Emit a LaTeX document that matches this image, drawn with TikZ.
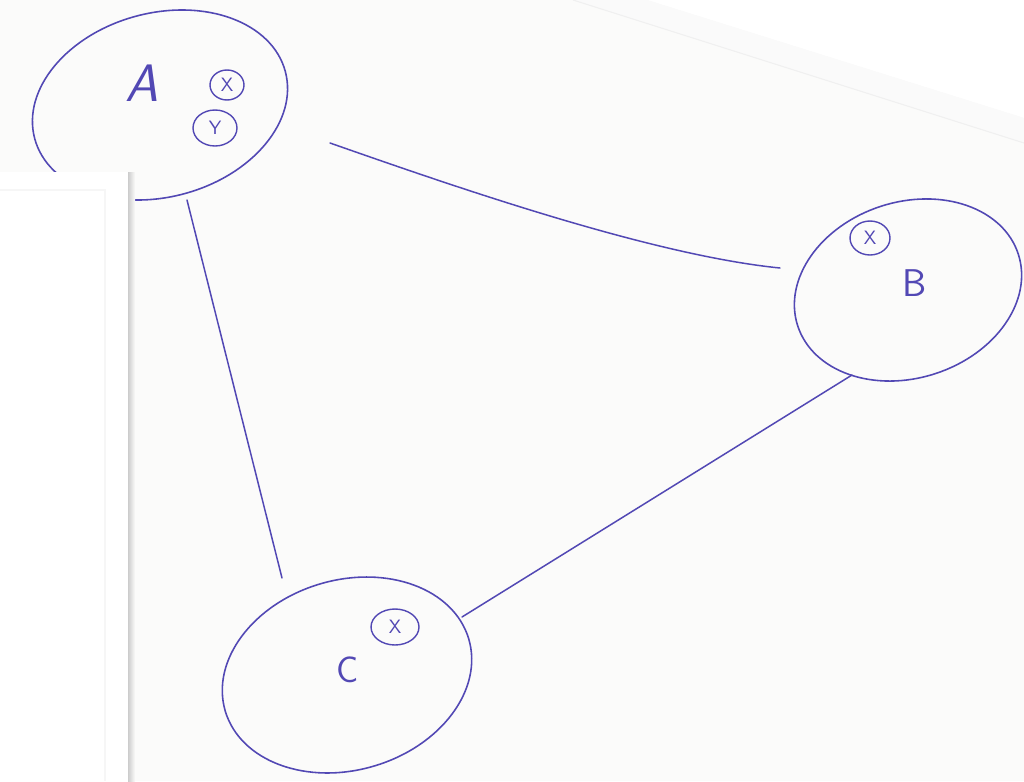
\documentclass[tikz,border=0pt]{standalone}
\usetikzlibrary{shapes.geometric}
\definecolor{ink}{RGB}{82,72,180}
\definecolor{paper}{RGB}{251,251,250}
\begin{document}
\begin{tikzpicture}[x=0.02cm,y=-0.02cm,
  loop/.style={draw=ink, line width=0.9pt, ellipse, inner sep=0pt},
  tag/.style={draw=ink, line width=0.8pt, ellipse, inner sep=0pt, text=ink,
    font=\sffamily\fontsize{11}{11}\selectfont},
  letter/.style={text=ink, inner sep=0pt},
  link/.style={draw=ink, line width=0.85pt, line cap=round}]
\useasboundingbox (0,0) rectangle (1024,781);
% sheet of paper
\fill[paper] (0,0) rectangle (1024,781);
\fill[white] (647,0) -- (1024,0) -- (1024,118) -- cycle;
\fill[gray!4] (573,0) -- (647,0) -- (1024,118) -- (1024,143) -- cycle;
\draw[gray!12, line width=0.6pt] (573,0) -- (1024,143);

% the three sets
\node[loop, minimum width=5.19cm, minimum height=3.68cm, rotate=15] (A) at (160,105) {};
\node[loop, minimum width=4.64cm, minimum height=3.52cm, rotate=18] (B) at (908,290) {};
\node[loop, minimum width=5.08cm, minimum height=3.80cm, rotate=16.5] (C) at (347,675) {};

% set names
\node[letter, font=\sffamily\slshape\fontsize{30}{30}\selectfont] (la) at (142,83) {A};
\node[letter, font=\sffamily\fontsize{22}{22}\selectfont] (lb) at (915,283) {B};
\node[letter, font=\sffamily\fontsize{21}{21}\selectfont] (lc) at (348,670) {C};

% circled members
\node[tag, minimum width=0.68cm, minimum height=0.60cm] (ax) at (227,85) {X};
\node[tag, minimum width=0.88cm, minimum height=0.72cm] (ay) at (215,128) {Y};
\node[tag, minimum width=0.80cm, minimum height=0.68cm] (bx) at (870,238) {X};
\node[tag, minimum width=0.96cm, minimum height=0.72cm] (cx) at (395,627) {X};

% links between the sets
\coordinate (ab0) at (330,143);
\coordinate (ab1) at (780,268);
\coordinate (ac0) at (187,200);
\coordinate (ac1) at (282,578);
\coordinate (bc0) at (852,375);
\coordinate (bc1) at (462,617);
\draw[link] (ab0) .. controls (450,185) and (650,255) .. (ab1);
\draw[link] (ac0) -- (ac1);
\draw[link] (bc0) -- (bc1);

% side sheet lying on top
\fill[white] (0,172) rectangle (128,781);
\shade[left color=gray!40, right color=paper] (128,172) rectangle (135,781);
\draw[gray!7, line width=0.6pt] (0,190) -- (105,190) -- (105,781);
\end{tikzpicture}
\end{document}
